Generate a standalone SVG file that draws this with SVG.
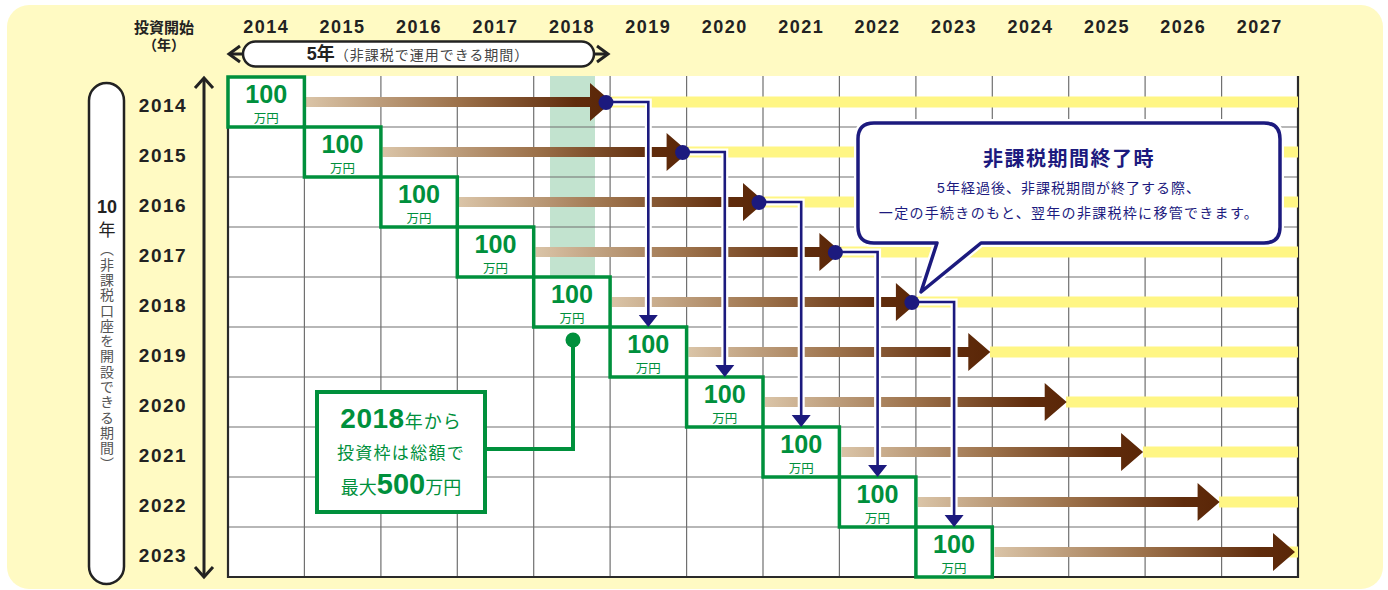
<svg xmlns="http://www.w3.org/2000/svg" width="1388" height="590" viewBox="0 0 1388 590">
<defs>
<linearGradient id="brown" x1="0" y1="0" x2="1" y2="0">
<stop offset="0" stop-color="#dac4a7"/>
<stop offset="0.5" stop-color="#9c714a"/>
<stop offset="0.88" stop-color="#602c0c"/>
<stop offset="1" stop-color="#5a2607"/>
</linearGradient>
<style>
.yr{font-family:"Liberation Sans",Arial,sans-serif;font-weight:bold;font-size:18px;fill:#222;letter-spacing:1.5px;text-anchor:middle}
.rl{font-family:"Liberation Sans",Arial,sans-serif;font-weight:bold;font-size:19px;fill:#222;letter-spacing:1.5px;text-anchor:middle}
.grid{stroke:#707070;stroke-width:1.2;fill:none}
.band{fill:#fff684}
.arr{fill:url(#brown)}
.box rect{fill:#fff;stroke:#00903c;stroke-width:3.5}
.amt{font-family:"Liberation Sans",Arial,sans-serif;font-weight:bold;font-size:25px;fill:#00903c;text-anchor:middle}
.yen{font-family:"Noto Sans CJK JP",sans-serif;font-size:12.5px;fill:#00903c;text-anchor:middle}
.halo{stroke:#fff;stroke-width:7;fill:none}
.bl{stroke:#1c1a7e;stroke-width:2.6;fill:none}
.blf{fill:#1c1a7e}
.jp{font-family:"Liberation Sans","Noto Sans CJK JP",sans-serif}
</style>
</defs>
<rect x="7" y="5" width="1376" height="584" rx="22" fill="#fffac3"/>

<g id="header">
<text class="jp" x="164" y="33" font-size="15" font-weight="bold" fill="#222" text-anchor="middle">投資開始</text>
<text class="jp" x="164" y="50" font-size="14" font-weight="bold" fill="#222" text-anchor="middle">（年）</text>
<text class="yr" x="266.2" y="33">2014</text>
<text class="yr" x="342.6" y="33">2015</text>
<text class="yr" x="419.1" y="33">2016</text>
<text class="yr" x="495.5" y="33">2017</text>
<text class="yr" x="571.9" y="33">2018</text>
<text class="yr" x="648.3" y="33">2019</text>
<text class="yr" x="724.8" y="33">2020</text>
<text class="yr" x="801.2" y="33">2021</text>
<text class="yr" x="877.6" y="33">2022</text>
<text class="yr" x="954.1" y="33">2023</text>
<text class="yr" x="1030.5" y="33">2024</text>
<text class="yr" x="1106.9" y="33">2025</text>
<text class="yr" x="1183.3" y="33">2026</text>
<text class="yr" x="1259.8" y="33">2027</text>
</g>

<g id="period5">
<line x1="229" y1="54" x2="608" y2="54" stroke="#222" stroke-width="3"/>
<polyline points="240,46 229,54 240,62" fill="none" stroke="#222" stroke-width="3"/>
<polyline points="597,46 608,54 597,62" fill="none" stroke="#222" stroke-width="3"/>
<rect x="243" y="41.5" width="351" height="25" rx="12.5" fill="#fff" stroke="#222" stroke-width="2.5"/>
<text class="jp" x="418" y="60" text-anchor="middle" fill="#222"><tspan font-size="18" font-weight="bold">5年</tspan><tspan font-size="14" fill="#444" letter-spacing="1">（非課税で運用できる期間）</tspan></text>
</g>

<g id="period10">
<rect x="89" y="83" width="35" height="501" rx="17.5" fill="#fff" stroke="#222" stroke-width="2.5"/>
<text x="107" y="213" font-family="Liberation Sans,Arial,sans-serif" font-weight="bold" font-size="18" fill="#222" text-anchor="middle">10</text>
<text x="107" y="236" font-family="Noto Sans CJK JP,sans-serif" font-size="17" fill="#222" text-anchor="middle">年</text>
<text x="107" y="242" font-family="Noto Sans CJK JP,sans-serif" font-size="14" fill="#555" letter-spacing="1.3" style="writing-mode:vertical-rl">（非課税口座を開設できる期間）</text>
<line x1="204" y1="79" x2="204" y2="575" stroke="#222" stroke-width="3"/>
<polyline points="195,88 204,78 213,88" fill="none" stroke="#222" stroke-width="3"/>
<polyline points="195,567 204,577 213,567" fill="none" stroke="#222" stroke-width="3"/>
</g>

<g id="rowlabels">
<text class="rl" x="163" y="112">2014</text>
<text class="rl" x="163" y="162">2015</text>
<text class="rl" x="163" y="212">2016</text>
<text class="rl" x="163" y="262">2017</text>
<text class="rl" x="163" y="312">2018</text>
<text class="rl" x="163" y="362">2019</text>
<text class="rl" x="163" y="412">2020</text>
<text class="rl" x="163" y="462">2021</text>
<text class="rl" x="163" y="512">2022</text>
<text class="rl" x="163" y="562">2023</text>
</g>

<g id="grid">
<rect x="228" y="76" width="1070" height="501" fill="#fff"/>
<rect x="550" y="76" width="45" height="201" fill="#c2e3cf"/>
<path class="grid" d="M304.4,76V577M380.9,76V577M457.3,76V577M533.7,76V577M610.1,76V577M686.6,76V577M763,76V577M839.4,76V577M915.9,76V577M992.3,76V577M1068.7,76V577M1145.1,76V577M1221.6,76V577M228,127H1298M228,177H1298M228,227H1298M228,277H1298M228,327H1298M228,377H1298M228,427H1298M228,477H1298M228,527H1298"/>
<path d="M228,76V577H1298V76" fill="none" stroke="#2a2a2a" stroke-width="2.2"/>
</g>

<g id="bands">
<rect class="band" x="606" y="96.5" width="692" height="11"/>
<rect class="band" x="683" y="146.5" width="615" height="11"/>
<rect class="band" x="759" y="196.5" width="539" height="11"/>
<rect class="band" x="835" y="246.5" width="463" height="11"/>
<rect class="band" x="912" y="296.5" width="386" height="11"/>
<rect class="band" x="990" y="346.5" width="308" height="11"/>
<rect class="band" x="1066" y="396.5" width="232" height="11"/>
<rect class="band" x="1143" y="446.5" width="155" height="11"/>
<rect class="band" x="1219" y="496.5" width="79" height="11"/>
<rect class="band" x="1285" y="546.5" width="13" height="11"/>
</g>

<g id="growth-arrows">
<path class="arr" d="M306,97H590V83L612,102L590,121V107H306Z"/>
<path class="arr" d="M382.5,147H666.6V133L688.6,152L666.6,171V157H382.5Z"/>
<path class="arr" d="M459,197H743V183L765,202L743,221V207H459Z"/>
<path class="arr" d="M535.5,247H819.4V233L841.4,252L819.4,271V257H535.5Z"/>
<path class="arr" d="M612,297H895.9V283L917.9,302L895.9,321V307H612Z"/>
<path class="arr" d="M688.5,347H968.3V333L990.3,352L968.3,371V357H688.5Z"/>
<path class="arr" d="M765,397H1044.7V383L1066.7,402L1044.7,421V407H765Z"/>
<path class="arr" d="M841.5,447H1121.1V433L1143.1,452L1121.1,471V457H841.5Z"/>
<path class="arr" d="M918,497H1197.6V483L1219.6,502L1197.6,521V507H918Z"/>
<path class="arr" d="M994.5,547H1273V533L1295,552L1273,571V557H994.5Z"/>
</g>

<g id="box2014" class="box"><rect x="228" y="77" width="76.4" height="50"/><text class="amt" x="266.2" y="102.5" textLength="42" lengthAdjust="spacingAndGlyphs">100</text><text class="yen" x="266.2" y="123">万円</text></g>
<g id="box2015" class="box"><rect x="304.4" y="127" width="76.5" height="50"/><text class="amt" x="342.6" y="152.5" textLength="42" lengthAdjust="spacingAndGlyphs">100</text><text class="yen" x="342.6" y="173">万円</text></g>
<g id="box2016" class="box"><rect x="380.9" y="177" width="76.4" height="50"/><text class="amt" x="419.1" y="202.5" textLength="42" lengthAdjust="spacingAndGlyphs">100</text><text class="yen" x="419.1" y="223">万円</text></g>
<g id="box2017" class="box"><rect x="457.3" y="227" width="76.4" height="50"/><text class="amt" x="495.5" y="252.5" textLength="42" lengthAdjust="spacingAndGlyphs">100</text><text class="yen" x="495.5" y="273">万円</text></g>
<g id="box2018" class="box"><rect x="533.7" y="277" width="76.4" height="50"/><text class="amt" x="571.9" y="302.5" textLength="42" lengthAdjust="spacingAndGlyphs">100</text><text class="yen" x="571.9" y="323">万円</text></g>
<g id="box2019" class="box"><rect x="610.1" y="327" width="76.5" height="50"/><text class="amt" x="648.3" y="352.5" textLength="42" lengthAdjust="spacingAndGlyphs">100</text><text class="yen" x="648.3" y="373">万円</text></g>
<g id="box2020" class="box"><rect x="686.6" y="377" width="76.4" height="50"/><text class="amt" x="724.8" y="402.5" textLength="42" lengthAdjust="spacingAndGlyphs">100</text><text class="yen" x="724.8" y="423">万円</text></g>
<g id="box2021" class="box"><rect x="763" y="427" width="76.4" height="50"/><text class="amt" x="801.2" y="452.5" textLength="42" lengthAdjust="spacingAndGlyphs">100</text><text class="yen" x="801.2" y="473">万円</text></g>
<g id="box2022" class="box"><rect x="839.4" y="477" width="76.5" height="50"/><text class="amt" x="877.6" y="502.5" textLength="42" lengthAdjust="spacingAndGlyphs">100</text><text class="yen" x="877.6" y="523">万円</text></g>
<g id="box2023" class="box"><rect x="915.9" y="527" width="76.4" height="50"/><text class="amt" x="954.1" y="552.5" textLength="42" lengthAdjust="spacingAndGlyphs">100</text><text class="yen" x="954.1" y="573">万円</text></g>

<g id="connectors">
<path class="halo" d="M606,102H648.3V316M682.6,152H724.8V366M759,202H801.2V416M835.4,252H877.6V466M911.9,302H954.1V516"/>
<path class="bl" d="M606,102H648.3V316M682.6,152H724.8V366M759,202H801.2V416M835.4,252H877.6V466M911.9,302H954.1V516"/>
<path class="blf" d="M638.8,315H657.8L648.3,327ZM715.3,365H734.3L724.8,377ZM791.7,415H810.7L801.2,427ZM868.1,465H887.1L877.6,477ZM944.6,515H963.6L954.1,527Z"/>
<circle class="blf" cx="606" cy="102.5" r="7.5"/>
<circle class="blf" cx="682.6" cy="152.5" r="7.5"/>
<circle class="blf" cx="759" cy="202.5" r="7.5"/>
<circle class="blf" cx="835.4" cy="252.5" r="7.5"/>
<circle class="blf" cx="911.9" cy="302.5" r="7.5"/>
<path d="M487,449H573V340" fill="none" stroke="#00903c" stroke-width="4"/>
<circle cx="573" cy="340" r="7.5" fill="#00903c"/>
</g>

<g id="callout">
<path d="M874,123H1264Q1280,123 1280,139V227Q1280,243 1264,243H981L921,292L937,243H874Q858,243 858,227V139Q858,123 874,123Z" fill="none" stroke="#fff" stroke-width="8" stroke-linejoin="round"/>
<path d="M874,123H1264Q1280,123 1280,139V227Q1280,243 1264,243H981L921,292L937,243H874Q858,243 858,227V139Q858,123 874,123Z" fill="#fff" stroke="#1c1a7e" stroke-width="3.5" stroke-linejoin="round"/>
<text class="jp" x="1069" y="166" font-size="20" font-weight="bold" fill="#1c1a7e" letter-spacing="1.5" text-anchor="middle">非課税期間終了時</text>
<text class="jp" x="1069" y="193" font-size="14" fill="#1c1a7e" letter-spacing="1" text-anchor="middle">5年経過後、非課税期間が終了する際、</text>
<text class="jp" x="1069" y="218" font-size="14" fill="#1c1a7e" letter-spacing="1.3" text-anchor="middle">一定の手続きのもと、翌年の非課税枠に移管できます。</text>
</g>

<g id="legend">
<rect x="317" y="392" width="168" height="120" fill="#fff" stroke="#00903c" stroke-width="4"/>
<text class="jp" x="401" y="428" fill="#00903c" text-anchor="middle"><tspan font-size="28" font-weight="bold" letter-spacing="0.5">2018</tspan><tspan font-size="18" letter-spacing="1">年から</tspan></text>
<text class="jp" x="401" y="459" fill="#00903c" font-size="17" letter-spacing="1.3" text-anchor="middle">投資枠は総額で</text>
<text class="jp" x="401" y="494" fill="#00903c" text-anchor="middle"><tspan font-size="18">最大</tspan><tspan font-size="29" font-weight="bold">500</tspan><tspan font-size="18">万円</tspan></text>
</g>
</svg>
